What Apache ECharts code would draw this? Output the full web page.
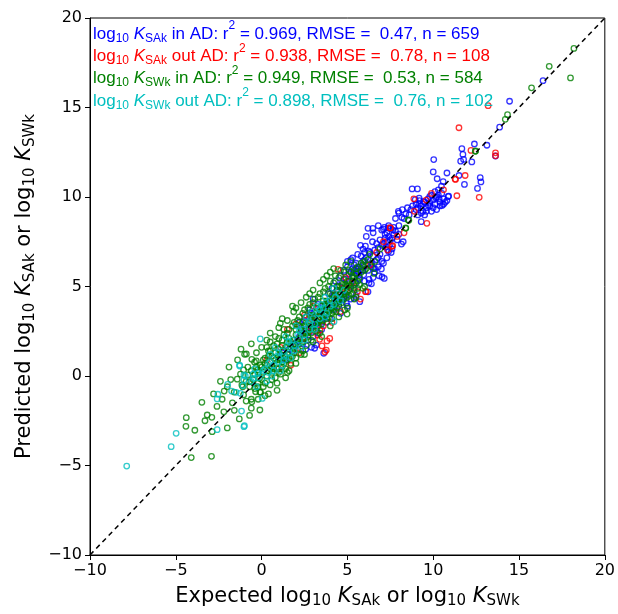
<!DOCTYPE html>
<html>
<head>
<meta charset="utf-8">
<script src="https://cdn.jsdelivr.net/npm/echarts/dist/echarts.min.js"></script>
<style>html,body{margin:0;padding:0;background:#fff}#c{width:618px;height:614px}</style>
</head>
<body>
<div id="c"></div>
<script>
// ---- data ----
const axisMin = -10, axisMax = 20, tickStep = 5;

const saInAD = [
[16.4,16.5],[14.45,15.35],[13.87,13.9],[12.4,12.96],[13.13,12.89],[11.67,12.7],[11.73,12.38],[11.6,12.0],[11.77,12.1],[13.63,12.29],
[12.25,11.96],[10.8,11.34],[11.5,11.2],[12.74,11.08],[12.78,10.84],[12.58,10.48],[10.03,12.09],[10.0,11.4],[10.23,11.02],[10.58,10.86],
[11.82,10.7],[10.48,10.6],[8.77,10.45],[9.08,10.45],[10.87,10.02],[10.9,10.05],[10.0,9.83],[10.35,9.89],[10.52,9.53],[9.8,10.03],[9.18,9.94],
[8.8,9.5],[9.0,9.3],[9.2,9.6],[9.4,9.2],[9.6,9.4],[9.8,9.7],[10.1,9.6],[10.2,9.3],[9.5,9.0],[9.3,9.1],[9.1,9.4],[9.9,9.2],[10.4,9.7],
[10.6,9.9],[10.7,9.7],[9.7,9.55],[9.45,9.75],[8.95,9.85],[10.3,10.1],[10.15,9.95],
[7.97,9.2],[8.0,9.1],[7.8,8.8],[8.17,8.86],[8.4,9.05],[8.3,8.8],[8.6,9.0],[8.7,9.3],[9.3,8.62],[8.2,9.3],[8.5,9.4],
[6.2,8.25],[6.48,8.25],[7.0,8.15],[7.15,8.3],[7.38,8.27],[7.52,8.24],[7.65,8.15],[7.3,8.0],[7.4,7.8],[7.5,7.6],[7.3,7.5],[7.45,7.3],
[7.6,7.1],[7.25,7.2],[7.4,6.95],[7.55,6.9],[7.2,7.7],[7.7,7.9],[8.0,7.92],[8.25,7.5],[8.15,7.37],[7.1,7.4],[7.35,7.05],
[5.76,7.3],[6.05,7.26],[5.91,7.09],[6.24,6.98],[6.46,7.5],[6.59,7.04],[6.79,7.17],
[5.55,6.0],[5.6,5.85],[5.55,5.7],[5.68,5.62],[5.95,5.65],[6.18,6.2],[6.53,6.0],[6.59,5.8],[6.84,5.6],[7.02,5.53],[7.15,5.45],
[6.26,5.4],[6.4,5.15],[6.26,5.19],[6.98,5.98],
[4.6,5.6],[4.8,5.9],[5.0,6.1],[5.2,5.8],[4.9,5.4],[5.1,5.3],[4.7,5.2],[5.3,5.5],[5.4,6.2],[5.0,6.4],[4.5,5.0],[4.4,4.8],[4.6,4.6],
[4.8,4.4],[5.0,4.7],[5.2,5.0],[5.4,4.9],[5.5,5.2],[5.7,5.4],[5.9,5.9],[6.0,6.5],[5.8,6.7],[5.3,6.6],[4.3,5.3],[4.1,4.9],[4.2,4.5],
[3.9,4.6],[4.0,4.2],[3.8,4.0],[4.4,4.1],[5.39,4.34],[5.72,4.15],[4.94,4.06],[4.71,4.26],[5.2,4.3],[5.5,4.5],[5.0,3.9],
[2.8,3.69],[2.9,3.5],[3.09,1.55],[3.62,1.27],[3.19,1.73],[2.9,1.6],[2.57,1.49],[3.3,2.4],[3.5,2.6],[3.0,2.2],[2.7,2.0],[2.4,1.8],
[3.8,3.0],[4.0,3.2],[3.6,3.3],[3.2,2.9],[2.6,2.6],[2.2,2.2],[2.0,1.7],[1.8,1.4],[1.6,1.5],[3.4,3.6],[3.7,3.9],[4.2,3.7],[4.5,3.9],
[1.4,0.9],[1.2,1.3],[2.3,2.6],[3.1,3.2],[3.5,3.0],[3.0,4.3],[3.3,4.0],[2.6,3.3],[4.6,3.5],[6.2,4.7],[6.5,5.5],[6.0,5.3],[7.1,6.3],
[6.8,6.6],[6.4,6.3],[7.3,6.6],
[5.1,5.7],[5.3,6.0],[5.5,6.3],[5.7,6.1],[5.9,6.4],[6.1,6.6],[6.3,6.9],[6.5,6.7],[6.7,6.5],[6.9,6.8],[5.2,6.5],[5.6,6.8],[6.0,6.9],
[6.4,6.2],[6.8,6.1],[7.0,6.4],[5.4,5.9],[5.8,6.0],[6.2,5.9],[6.6,6.0],
[6.1,7.8],[6.5,8.0],[6.8,8.4],[7.1,8.2],[7.4,8.4],[7.7,8.3],[8.0,8.4],[7.8,8.1],[7.6,7.7],[7.9,7.6],[7.2,7.9],[6.9,7.6],[6.7,7.4],[7.0,7.3],
[9.1,9.0],[9.3,9.5],[9.5,9.7],[9.7,9.9],[9.9,10.1],[10.1,10.3],[10.3,10.4],[10.5,10.2],[10.2,10.0],[9.6,9.2],[9.8,9.5],[10.0,9.4],
[10.4,9.5],[10.6,9.6],[10.8,9.8],[9.4,9.6],[9.2,9.8],[9.0,9.6],
[2.1,2.0],[2.5,2.3],[2.9,2.7],[3.3,3.0],[3.7,3.4],[4.1,3.8],[4.5,4.2],[4.9,4.5],[2.2,3.0],[2.5,3.1],[3.0,2.8],[1.9,1.8]
];

const saOutAD = [
[13.2,15.1],[11.5,13.87],[13.63,12.47],[13.63,12.3],[11.86,11.2],[11.28,11.0],[11.3,10.98],[12.68,9.98],[11.38,10.07],[8.87,9.9],
[9.59,9.83],[9.63,8.53],[7.5,8.28],[7.64,7.28],[7.35,7.04],[7.49,8.27],[7.6,7.25],[4.45,5.96],[6.05,4.71],[5.58,4.71],[6.1,4.71],
[5.76,4.3],[3.4,2.57],[3.27,2.29],[3.38,2.05],[3.81,1.96],[3.97,2.1],[3.77,1.45],[3.52,1.68],[3.69,1.34],
[0.3,0.9],[1.1,1.6],[1.5,2.6],[2.0,2.9],[2.5,3.4],[3.0,3.9],[4.3,4.6],[4.9,5.5],[2.2,1.3],[1.7,0.6],[2.8,2.5],[3.6,2.8],[4.6,3.6],
[5.3,5.2],[6.7,6.9],[8.9,9.2],[9.9,10.2],[6.3,6.2],[7.1,7.5],[5.0,4.9],[3.4,3.3],[2.4,2.1],[1.0,0.4],[4.1,3.0],[7.9,7.8],[8.3,8.0],
[10.6,10.4],[12.2,12.6],[2.9,3.2],[3.8,3.5],[4.7,4.9]
];

const swInAD = [
[18.2,18.3],[16.76,17.3],[18.0,16.65],[15.73,16.1],[14.33,14.6],[14.2,14.34],[12.45,12.55],[12.47,12.57],[8.58,8.7],[8.54,8.72],
[8.4,8.28],[8.4,8.25],[6.55,5.73],[6.4,6.1],[4.84,3.69],[4.34,3.59],[4.98,3.46],[1.87,3.59],[1.09,2.94],
[-0.99,1.21],[-0.89,1.23],[-0.57,0.93],[-0.31,0.84],[-0.41,0.77],[-1.05,0.34],[-1.23,0.11],[-1.42,-0.18],[-1.15,-0.5],[-0.8,0.06],
[-0.7,-0.32],[-0.22,0.34],[-0.12,-0.13],[-2.18,-0.84],[-3.48,-1.47],[-1.05,-1.06],[-0.35,-0.88],[-0.06,-0.91],[-0.22,-0.6],
[-0.6,-1.3],[-0.57,-1.44],[-0.6,-1.8],[-1.59,-1.92],[-3.17,-2.18],[-2.9,-2.31],[-4.39,-2.33],[-4.41,-2.81],[-3.89,-3.03],
[-2.88,-3.11],[-4.1,-4.56],[-2.92,-4.49],
[0.0,0.5],[0.2,1.0],[0.4,0.3],[0.5,1.4],[0.6,-0.2],[0.8,0.9],[0.9,1.8],[1.0,0.2],[1.1,1.2],[1.2,2.0],[1.3,0.7],[1.4,1.6],[1.5,2.4],
[1.6,1.0],[1.7,1.9],[1.8,2.8],[1.9,1.3],[2.0,2.3],[2.1,3.1],[2.2,1.8],[2.3,2.7],[2.4,3.5],[2.5,2.1],[2.6,3.0],[2.7,3.8],[2.8,2.6],
[2.9,3.3],[3.0,4.1],[3.1,2.9],[3.2,3.6],[3.3,4.4],[3.4,3.1],[3.5,3.9],[3.6,4.7],[3.7,3.5],[3.8,4.2],[3.9,5.0],[4.0,3.7],[4.1,4.5],
[4.2,5.2],[4.3,4.0],[4.4,4.8],[4.5,5.5],[4.6,4.4],[4.7,5.1],[4.8,5.8],[4.9,4.6],[5.0,5.3],[5.1,5.9],[5.2,4.9],[5.3,5.6],[5.5,6.0],
[5.6,5.3],[5.8,6.3],[6.0,5.9],[6.3,6.8],[6.6,6.4],[6.9,7.1],
[-0.5,-0.2],[-0.3,0.5],[-0.2,-0.4],[0.1,-0.6],[0.3,1.6],[0.7,0.4],[1.0,1.5],[1.2,0.5],[1.5,1.9],[1.9,1.5],[2.2,2.8],[2.5,2.5],
[2.8,3.0],[3.0,3.4],[3.3,3.0],[3.5,3.6],[3.7,4.0],[3.9,3.6],[4.2,4.4],[4.4,4.2],[4.6,5.0],[4.8,4.7],[5.1,5.1],[5.4,5.5],[1.3,2.6],
[0.8,2.2],[0.5,1.9],[2.4,1.4],[2.9,2.0],[3.4,2.4],[4.1,3.2],[5.4,4.3],[5.9,4.9],[0.6,1.1],[-0.8,0.5],[-1.4,0.9],[-1.8,-0.2],
[-2.3,-1.3],[-1.1,-0.6],[-0.9,-1.4],[-0.2,-1.3],[0.2,-1.1],[0.9,-0.4],[1.6,0.3],[1.4,-0.1],[-2.6,-1.7],[-3.3,-2.5],[-1.3,-2.4],
[-2.0,-2.9],[-0.7,-2.2],[-0.1,-1.9],
[0.1,0.2],[0.3,0.6],[0.5,0.4],[0.7,1.0],[0.9,0.7],[1.1,1.0],[1.3,1.4],[1.5,1.2],[1.7,1.6],[1.9,2.0],[2.1,1.9],[2.3,2.3],[2.5,2.8],
[2.7,2.4],[2.9,2.8],[3.1,3.3],[3.3,3.2],[3.5,3.4],[3.7,3.8],[3.9,4.1],[4.1,3.9],[4.3,4.5],[4.5,4.3],[4.7,4.8],[4.9,5.1],[5.1,4.8],
[5.3,5.3],[5.5,5.7],[5.7,5.5],[5.9,6.2],[6.1,6.0],[6.2,6.5],
[0.2,0.7],[0.4,1.1],[0.6,0.5],[0.8,1.3],[1.0,0.9],[1.2,1.7],[1.4,1.1],[1.6,2.1],[1.8,1.7],[2.0,2.6],[2.2,2.1],[2.4,3.0],[2.6,2.4],
[2.8,3.4],[3.0,2.9],[3.2,3.8],[3.4,3.5],[3.6,4.2],[3.8,3.7],[4.0,4.6],[4.2,4.1],[4.4,5.0],[4.6,4.6],[4.8,5.4],[5.0,5.0],[5.2,5.8],
[5.4,5.2],[5.6,6.1],[5.8,5.8],[6.0,6.4],
[0.0,-0.2],[0.3,0.0],[0.6,0.2],[0.9,0.4],[1.2,0.8],[1.5,0.9],[1.8,1.1],[2.1,1.5],[2.4,1.9],[2.7,2.2],[3.0,2.6],[3.3,2.8],[3.6,3.1],
[3.9,3.3],[4.2,3.6],[4.5,4.0],[4.8,4.3],[5.1,4.5],[5.4,4.8],[5.7,5.1],
[-0.4,0.1],[-0.6,0.3],[-0.2,0.2],[0.1,0.9],[-0.1,0.6],[0.4,1.4],[0.7,1.7],[1.0,2.1],[1.3,2.3],[1.6,2.6],[1.9,3.0],[2.2,3.3],[2.5,3.7],
[2.8,4.0],[3.1,4.3],[3.4,4.6],[3.7,4.9],[4.0,5.3],[4.3,5.6],[4.6,5.9],[4.9,6.2],[5.2,6.4],
[-0.9,-0.3],[-0.7,-0.6],[-0.4,-0.7],[-0.1,-0.9],[0.2,-0.4],[0.5,-0.5],[0.8,-0.1],[1.1,0.1],[1.4,0.4],[1.7,0.7],[2.0,1.0],[2.3,1.2],
[2.6,1.7],[2.9,2.4],[3.2,2.5],[3.5,2.9],[3.8,3.2],[4.1,3.5],[4.4,3.8],[4.7,4.1],[5.0,4.4],[5.3,4.6],[5.6,4.9],
[0.5,2.4],[1.0,2.7],[1.5,3.1],[2.0,3.8],[2.3,4.1],[2.6,4.4],[3.0,4.8],[3.4,5.2],[3.8,5.6],[4.2,6.0],[0.0,1.6],[-0.3,1.3],[0.3,2.0],
[1.2,3.2],[1.8,3.9],[2.8,4.6],[3.6,5.4],[4.0,5.8],[1.5,0.2],[2.0,0.7],[2.5,1.2],[3.0,1.9],[3.5,2.2],[4.0,2.8],[4.5,3.3],[5.0,3.8],
[5.5,4.4],[6.0,5.0],[0.9,-0.8],[0.4,-1.0],[-1.6,-0.9],[-2.0,-0.6],[-2.4,-0.3],[-1.9,0.5],[-0.6,1.8],[-1.2,1.5],[-2.8,-1.0],
[-2.2,-2.0],[-1.7,-1.5]
];

const swOutAD = [
[-7.86,-5.03],[-5.27,-3.95],[-4.98,-3.2],[-2.59,-3.0],[-1.03,-2.83],[-1.0,-2.78],[-1.17,-1.96],[0.04,-1.25],[-2.55,-1.02],
[-2.59,-1.28],[-1.75,-0.84],[-1.48,-0.91],[-1.24,-0.97],[-1.98,-0.47],[-1.28,0.61],[-0.08,2.07],[-1.28,0.56],[-1.03,0.06],
[-1.09,-0.54],[4.22,3.03],[-1.03,-0.22],[-0.47,-0.13],[-0.22,0.15],[-0.95,0.0],
[0.0,0.1],[0.2,0.4],[0.4,0.2],[0.5,0.8],[0.7,0.6],[0.9,1.1],[1.0,0.8],[1.2,1.4],[1.3,1.1],[1.5,1.7],[1.6,1.3],[1.8,2.0],[1.9,1.7],
[2.1,2.3],[2.2,2.0],[2.4,2.6],[2.5,2.3],[2.7,2.9],[2.8,2.6],[3.0,3.2],[3.1,2.9],[3.3,3.5],[3.4,3.2],[3.6,3.8],[3.8,3.5],[4.0,4.2],
[4.2,4.0],[4.5,4.6],[0.3,-0.3],[-0.3,-0.6],[-0.6,-0.3],[0.6,0.0],[1.1,0.3],[0.8,1.6],[1.4,2.2],[2.0,2.8],[2.6,3.3],[3.2,3.9],
[-0.4,0.4],[3.7,4.4],[1.7,1.0],[2.3,1.6],
[0.1,0.3],[0.4,0.7],[0.7,0.3],[1.0,1.3],[1.3,0.9],[1.6,1.9],[1.9,1.4],[2.2,2.5],[2.5,2.0],[2.8,3.0],[3.1,2.6],[3.4,3.7],[3.7,3.3],
[4.0,3.9],[4.3,4.4],[4.6,4.2],[2.9,3.6],[3.5,4.0],[1.2,0.6],[0.5,1.2],[-0.2,-0.1],[-0.5,0.1],[4.8,4.8],[4.2,4.9]
];

const diagLine = [[-10,-10],[20,20]];

const legendLines = [
  {color:'#0000ff', sub:'SAk', rest:' in AD: r', stats:' = 0.969, RMSE =  0.47, n = 659'},
  {color:'#ff0000', sub:'SAk', rest:' out AD: r', stats:' = 0.938, RMSE =  0.78, n = 108'},
  {color:'#008000', sub:'SWk', rest:' in AD: r', stats:' = 0.949, RMSE =  0.53, n = 584'},
  {color:'#00bfbf', sub:'SWk', rest:' out AD: r', stats:' = 0.898, RMSE =  0.76, n = 102'}
];

// ---- chart ----
const chart = echarts.init(document.getElementById('c'), null, {renderer:'canvas'});
const MINUS = '\u2212';
const fmt = v => String(v).replace('-', MINUS);
const FF = 'DejaVu Sans';

function titleRich(){
  return {
    n:{fontSize:21, fontFamily:FF, color:'#000'},
    s:{fontSize:15, fontFamily:FF, color:'#000', padding:[10,0,0,0]},
    i:{fontSize:21, fontFamily:FF, fontStyle:'italic', color:'#000'}
  };
}

function scatter(name, data, color){
  return {
    type:'scatter', name, data, symbol:'circle', symbolSize:5.5,
    itemStyle:{color:'rgba(0,0,0,0)', borderColor:color, borderWidth:1.3},
    emphasis:{disabled:true}, silent:true
  };
}

const graphics = legendLines.map((L, k) => ({
  type:'text', left:93, top:20 + k*22.3, z:100,
  style:{
    text:'{t|log}{s|10}{i| K}{s|'+L.sub+'}{t|'+L.rest+'}{p|2}{t|'+L.stats+'}',
    rich:{
      t:{fontSize:17, fontFamily:'Liberation Sans', fill:L.color},
      i:{fontSize:17, fontFamily:'Liberation Sans', fontStyle:'italic', fill:L.color},
      s:{fontSize:12, fontFamily:'Liberation Sans', fill:L.color, padding:[9,0,0,0]},
      p:{fontSize:12, fontFamily:'Liberation Sans', fill:L.color, padding:[0,0,16,0]}
    }
  }
}));

chart.setOption({
  animation:false,
  backgroundColor:'#fff',
  grid:{left:90, right:13, top:18, bottom:59, show:true, borderColor:'#000', borderWidth:1, backgroundColor:'transparent'},
  xAxis:{
    type:'value', min:axisMin, max:axisMax, interval:tickStep,
    axisLine:{show:true, onZero:false, lineStyle:{color:'#000', width:1}},
    axisTick:{show:true, inside:false, length:5, lineStyle:{color:'#000'}},
    splitLine:{show:false},
    axisLabel:{fontSize:16, fontFamily:FF, color:'#000', margin:8, formatter:fmt},
    name:'{n|Expected log}{s|10}{i| K}{s|SAk}{n| or log}{s|10}{i| K}{s|SWk}',
    nameLocation:'middle', nameGap:29,
    nameTextStyle:{rich:titleRich()}
  },
  yAxis:{
    type:'value', min:axisMin, max:axisMax, interval:tickStep,
    axisLine:{show:true, onZero:false, lineStyle:{color:'#000', width:1}},
    axisTick:{show:true, inside:false, length:5, lineStyle:{color:'#000'}},
    splitLine:{show:false},
    axisLabel:{fontSize:16, fontFamily:FF, color:'#000', margin:8, formatter:fmt},
    name:'{n|Predicted log}{s|10}{i| K}{s|SAk}{n| or log}{s|10}{i| K}{s|SWk}',
    nameLocation:'middle', nameGap:44, nameRotate:90,
    nameTextStyle:{rich:titleRich()}
  },
  graphic:graphics,
  series:[
    scatter('saIn', saInAD, '#0000ff'),
    scatter('saOut', saOutAD, '#ff0000'),
    scatter('swIn', swInAD, '#008000'),
    scatter('swOut', swOutAD, '#00bfbf'),
    {type:'line', data:diagLine, symbol:'none', silent:true, z:5,
     lineStyle:{color:'#000', width:1.5, type:[5,4]}}
  ]
});
</script>
</body>
</html>
